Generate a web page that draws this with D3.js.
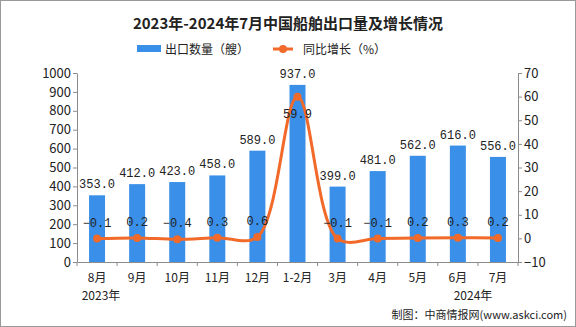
<!DOCTYPE html>
<html>
<head>
<meta charset="utf-8">
<script src="https://cdn.jsdelivr.net/npm/d3@7"></script>
<style>
  body { margin: 0; background: #fff; }
  svg { display: block; }
  text { font-family: "Noto Sans CJK SC", "DejaVu Sans", sans-serif; }
  .num { font-family: "Liberation Mono", "DejaVu Sans Mono", monospace; }
</style>
</head>
<body>
<div id="chart"></div>
<script>
var months = ["8月", "9月", "10月", "11月", "12月", "1-2月", "3月", "4月", "5月", "6月", "7月"];
var exports = [353, 412, 423, 458, 589, 937, 399, 481, 562, 616, 556];
var growth = [-0.1, 0.2, -0.4, 0.3, 0.6, 59.9, -0.1, -0.1, 0.2, 0.3, 0.2];
var leftTicks = [0, 100, 200, 300, 400, 500, 600, 700, 800, 900, 1000];
var rightTicks = [-10, 0, 10, 20, 30, 40, 50, 60, 70];

var W = 576, H = 327;
var margin = { top: 73, right: 58, bottom: 65, left: 77 },
    width = W - margin.left - margin.right,
    height = H - margin.top - margin.bottom;

var svgRoot = d3.select("#chart").append("svg").attr("width", W).attr("height", H);

svgRoot.append("rect")
    .attr("x", 0.5).attr("y", 0.5)
    .attr("width", W - 1).attr("height", H - 1)
    .attr("fill", "#fff").attr("stroke", "#999");

var svg = svgRoot.append("g")
    .attr("transform", "translate(" + margin.left + "," + margin.top + ")");

var x = d3.scaleBand().domain(months).range([0, width]);
var yL = d3.scaleLinear().domain([0, 1000]).range([height, 0]);
var yR = d3.scaleLinear().domain([-10, 70]).range([height, 0]);

var axisColor = "#8c8c8c";

// axes
var xAxis = svg.append("g")
    .attr("transform", "translate(0," + height + ")")
    .call(d3.axisBottom(x).tickSize(0).tickPadding(11));
xAxis.selectAll("text").attr("font-size", 12).attr("fill", "#222");
xAxis.append("g").selectAll("line")
    .data(d3.range(months.length + 1))
    .enter().append("line")
    .attr("x1", function (i) { return i * x.step(); })
    .attr("x2", function (i) { return i * x.step(); })
    .attr("y1", 0).attr("y2", 4)
    .attr("stroke", axisColor);

var yAxisL = svg.append("g")
    .call(d3.axisLeft(yL).tickValues(leftTicks).tickSize(4).tickSizeOuter(0).tickPadding(2)
        .tickFormat(d3.format("d")));
yAxisL.selectAll("text").attr("font-size", 13).attr("fill", "#222");

var yAxisR = svg.append("g")
    .attr("transform", "translate(" + width + ",0)")
    .call(d3.axisRight(yR).tickValues(rightTicks).tickSize(4).tickSizeOuter(0).tickPadding(2)
        .tickFormat(function (d) { return d < 0 ? "\u2212" + Math.abs(d) : d; }));
yAxisR.selectAll("text").attr("font-size", 13).attr("fill", "#222");

svg.selectAll(".domain").attr("stroke", axisColor);
svg.selectAll(".tick line").attr("stroke", axisColor);

// bars
var barW = 16;
svg.append("g").selectAll("rect")
    .data(exports)
    .enter().append("rect")
    .attr("x", function (d, i) { return x(months[i]) + x.bandwidth() / 2 - barW / 2; })
    .attr("y", function (d) { return yL(d); })
    .attr("width", barW)
    .attr("height", function (d) { return height - yL(d); })
    .attr("fill", "#3a8fe8");

svg.append("g").selectAll("text")
    .data(exports)
    .enter().append("text")
    .attr("class", "num")
    .attr("x", function (d, i) { return x(months[i]) + x.bandwidth() / 2; })
    .attr("y", function (d) { return yL(d) - 7; })
    .attr("text-anchor", "middle")
    .attr("font-size", 12)
    .attr("fill", "#222")
    .text(function (d) { return d.toFixed(1); });

// line
var line = d3.line()
    .x(function (d, i) { return x(months[i]) + x.bandwidth() / 2; })
    .y(function (d) { return yR(d); })
    .curve(d3.curveCatmullRom.alpha(0.5));

svg.append("path")
    .datum(growth)
    .attr("d", line)
    .attr("fill", "none")
    .attr("stroke", "#f26a2a")
    .attr("stroke-width", 3);

svg.append("g").selectAll("circle")
    .data(growth)
    .enter().append("circle")
    .attr("cx", function (d, i) { return x(months[i]) + x.bandwidth() / 2; })
    .attr("cy", function (d) { return yR(d); })
    .attr("r", 4)
    .attr("fill", "#f26a2a");

svg.append("g").selectAll("text")
    .data(growth)
    .enter().append("text")
    .attr("class", "num")
    .attr("x", function (d, i) { return x(months[i]) + x.bandwidth() / 2; })
    .attr("y", function (d) { return d > 50 ? yR(d) + 21 : yR(d) - 12; })
    .attr("text-anchor", "middle")
    .attr("font-size", 12)
    .attr("fill", "#222")
    .text(function (d) { return d < 0 ? "\u2212" + Math.abs(d).toFixed(1) : d.toFixed(1); });

// year labels
svgRoot.append("text").attr("x", 101).attr("y", 300).attr("text-anchor", "middle")
    .attr("font-size", 12).attr("fill", "#222").text("2023年");
svgRoot.append("text").attr("x", 473).attr("y", 300).attr("text-anchor", "middle")
    .attr("font-size", 12).attr("fill", "#222").text("2024年");

// title
svgRoot.append("text").attr("x", 288).attr("y", 29).attr("text-anchor", "middle")
    .attr("font-size", 15).attr("font-weight", "bold").attr("fill", "#222")
    .text("2023年-2024年7月中国船舶出口量及增长情况");

// legend
svgRoot.append("rect").attr("x", 137).attr("y", 45).attr("width", 24).attr("height", 7).attr("fill", "#3a8fe8");
svgRoot.append("text").attr("x", 165).attr("y", 54).attr("font-size", 12).attr("fill", "#222").text("出口数量（艘）");
svgRoot.append("line").attr("x1", 273).attr("x2", 293).attr("y1", 49).attr("y2", 49)
    .attr("stroke", "#f26a2a").attr("stroke-width", 3);
svgRoot.append("circle").attr("cx", 283).attr("cy", 49).attr("r", 4).attr("fill", "#f26a2a");
svgRoot.append("text").attr("x", 303).attr("y", 54).attr("font-size", 12).attr("fill", "#222").text("同比增长（%）");

// source
svgRoot.append("text").attr("x", 567).attr("y", 319).attr("text-anchor", "end")
    .attr("font-size", 11).attr("fill", "#222").text("制图：中商情报网(www.askci.com)");
</script>
</body>
</html>
